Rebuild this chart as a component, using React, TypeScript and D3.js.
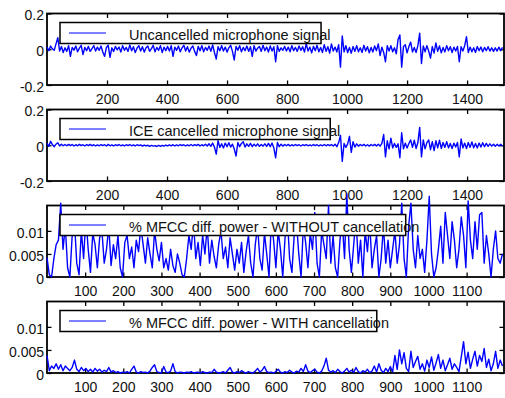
import React, { useEffect, useRef } from 'react';
import * as d3 from 'd3';

// microphone signals: one value every 6 samples, in units of 0.001
const micStep = 6;
const uncancelled = [
  12, -8, 18, 2, -6, 30, 65, -10, 15, -18,
  8, -12, 20, -40, 10, -5, 18, -14, 6, 22,
  -30, 10, -8, 16, -12, 4, 20, -10, 12, -6,
  18, -15, -40, 10, 22, -45, 8, -12, 16, -4,
  12, -16, 20, -6, 10, -12, 24, -8, 14, -18,
  6, 20, -10, 14, -16, 8, 18, -12, 4, 22,
  -14, 10, -6, 20, -18, 12, -8, 16, -10, 20,
  -40, 12, -6, 18, -14, 8, 22, -10, 14, -16,
  6, 18, -12, -35, 16, -8, 20, -14, 10, -6,
  18, -12, 24, -18, -55, 14, -8, 20, -10, 12,
  -16, 8, 22, -12, -60, 16, -6, 20, -14, 10,
  -8, 18, -12, 14, -40, 20, -10, 6, 16, -12,
  22, -8, 12, -16, 18, -10, 14, -70, 20, -12,
  8, -6, 16, -10, 12, -14, 20, -8, 10, -12,
  18, -6, 14, -16, 30, -10, 12, -20, 16, -8,
  22, -14, 10, -18, 26, -12, 14, -22, 30, -10,
  12, -15, 25, -100, 75, -15, 20, -18, 10, -22,
  15, -12, 20, -14, 8, -18, 22, -10, 14, -20,
  10, -15, 18, -8, 30, -35, 12, -18, -70, 20,
  -10, 20, -14, 8, -25, 55, 80, -100, 15, 25,
  -20, 15, 40, -15, 10, -18, 20, 90, -80, 18,
  -14, 20, -10, -50, 15, -22, 35, -12, 18, -20,
  10, -15, 20, -8, 14, -18, 12, -10, 16, -70,
  14, -10, 20, 70, -18, 12, -14, 8, -18, 15,
  -8, 12, -14, 10, -8, 14, -10, 8, -12, 8,
  -10, 12, -8, 10,
];
const iceCancelled = [
  10, -6, 22, 4, -8, 6, 14, -4, 6, -3,
  4, -3, 5, -2, 4, -4, 3, -3, 5, -2,
  3, -4, 4, -2, 5, -3, 3, -4, 2, -3,
  4, -2, 3, -4, 5, -3, 2, -4, 3, -2,
  4, -3, 2, -4, 3, -2, 4, -3, 2, -4,
  3, -2, 2, -5, 1, -4, 0, -6, -1, -5,
  -2, -7, 0, -6, -1, -5, 1, -4, 2, -3,
  3, -4, 2, -3, 4, -2, 3, -4, 2, -3,
  4, -3, 3, -2, 5, -4, 3, -3, 6, -4,
  8, -6, 12, -10, -50, 25, -12, 8, -15, 12,
  -8, 14, -10, 6, -20, -60, 15, -8, 10, 20,
  -10, 8, -6, 10, -8, 6, -5, 8, -6, 4,
  -5, 8, -6, 10, -8, 12, -15, -70, 15, -8,
  6, -5, 4, -3, 5, -4, 3, -3, 4, -2,
  3, -4, 3, -2, 4, -3, 2, -3, 4, -2,
  3, -4, 2, -3, 4, -3, 3, -2, 4, -4,
  6, -8, 15, 55, -90, 10, -12, 8, 50, -40,
  20, -10, 8, -5, 4, -3, 5, -4, 3, -5,
  4, -3, 5, -4, 6, -5, 10, 60, -65, 25,
  -20, 40, -15, 10, -12, 8, -70, 70, -20, 12,
  -15, 10, 30, -12, 28, -18, 15, 100, -65, 30,
  -20, 15, 30, -25, 20, -30, 25, -15, 28, -18,
  15, -12, 20, -15, 10, -18, 12, -10, 15, -65,
  35, -15, 12, -18, 15, -12, 18, -14, 10, -15,
  12, -10, 14, -8, 10, -6, 8, -5, 6, -6,
  5, -4, 6, -5,
];

// % MFCC diff power: one value every 6 frames, in units of 0.0001
const mfccStep = 6;
const mfccWithout = [
  42, 5, 0, 40, 70, 80, 160, 60, 110, 20,
  0, 90, 120, 30, 5, 100, 40, 130, 60, 10,
  95, 70, 20, 85, 100, 30, 60, 110, 25, 70,
  40, 90, 20, 0, 75, 90, 40, 65, 20, 80,
  55, 110, 70, 30, 85, 50, 20, 100, 60, 35,
  75, 20, 40, 15, 60, 25, 10, 50, 30, 5,
  0, 40, 90, 60, 120, 40, 75, 25, 90, 50,
  110, 30, 80, 45, 20, 70, 100, 40, 65, 20,
  85, 50, 15, 60, 30, 75, 10, 55, 90, 30,
  0, 70, 110, 40, 15, 95, 50, 0, 120, 80,
  20, 100, 60, 0, 85, 130, 40, 10, 90, 120,
  50, 0, 110, 75, 20, 95, 60, 140, 30, 0,
  100, 70, 40, 155, 30, 90, 20, 0, 80, 120,
  40, 180, 60, 10, 70, 130, 30, 80, 0, 100,
  55, 120, 20, 60, 90, 0, 40, 110, 30, 80,
  20, 60, 100, 30, 70, 160, 40, 0, 110, 160,
  60, 20, 90, 40, 60, 10, 80, 175, 50, 0,
  20, 60, 110, 30, 140, 90, 40, 120, 80, 20,
  60, 130, 90, 20, 165, 80, 40, 120, 60, 135,
  140, 30, 90, 50, 0, 60, 100, 40, 30, 50,
];
const mfccWith = [
  38, 5, 15, 10, 20, 8, 18, 5, 15, 10,
  5, 12, 28, 8, 3, 12, 5, 10, 3, 8,
  2, 10, 4, 8, 2, 6, 3, 12, 2, 5,
  1, 3, 0, 2, 1, 3, 0, 8, 15, 2,
  0, 3, 1, 2, 0, 4, 12, 18, 3, 1,
  0, 14, 2, 1, 4, 20, 3, 0, 2, 1,
  0, 2, 1, 3, 0, 1, 2, 0, 3, 1,
  0, 2, 1, 8, 2, 0, 1, 3, 0, 6,
  12, 2, 0, 3, 1, 5, 2, 0, 3, 1,
  0, 4, 10, 2, 6, 14, 3, 1, 2, 0,
  3, 8, 2, 0, 3, 1, 6, 2, 0, 4,
  2, 10, 3, 18, 4, 1, 5, 8, 2, 0,
  4, 15, 32, 6, 2, 5, 1, 8, 3, 0,
  4, 10, 2, 6, 1, 12, 3, 0, 5, 2,
  8, 1, 4, 15, 2, 20, 6, 1, 10, 3,
  14, 2, 38, 8, 50, 20, 44, 10, 3, 47,
  12, 25, 36, 8, 20, 4, 28, 12, 35, 6,
  22, 40, 10, 28, 5, 18, 32, 8, 20, 12,
  3, 35, 68, 20, 45, 10, 30, 47, 15, 38,
  25, 53, 12, 30, 5, 20, 47, 10, 28, 15,
];

const micXTicks = [200, 400, 600, 800, 1000, 1200, 1400];
const micYTicks = [-0.2, 0, 0.2];
const mfccXTicks = [100, 200, 300, 400, 500, 600, 700, 800, 900, 1000, 1100];
const mfccYTicks = [0, 0.005, 0.01];
const legendLabels = [
  'Uncancelled microphone signal',
  'ICE cancelled microphone signal',
  '% MFCC diff. power - WITHOUT cancellation',
  '% MFCC diff. power - WITH cancellation',
];

const W = 505;
const H = 398;
const font = '"Liberation Sans", Arial, Helvetica, sans-serif';

const App = () => {
  const ref = useRef<SVGSVGElement>(null);

  useEffect(() => {
    const svg = d3.select(ref.current);
    svg.selectAll('*').remove();

    const left = 47;
    const right = 504;
    const plotH = 71.5;
    const panels = [
      { values: uncancelled.map(v => v / 1000), step: micStep, xMax: 1523, yDomain: [-0.2, 0.2], xTicks: micXTicks, yTicks: micYTicks },
      { values: iceCancelled.map(v => v / 1000), step: micStep, xMax: 1523, yDomain: [-0.2, 0.2], xTicks: micXTicks, yTicks: micYTicks },
      { values: mfccWithout.map(v => v / 10000), step: mfccStep, xMax: 1198, yDomain: [0, 0.0155], xTicks: mfccXTicks, yTicks: mfccYTicks },
      { values: mfccWith.map(v => v / 10000), step: mfccStep, xMax: 1198, yDomain: [0, 0.0155], xTicks: mfccXTicks, yTicks: mfccYTicks },
    ];

    svg.append('rect').attr('width', W).attr('height', H).attr('fill', '#fff');

    panels.forEach((p, k) => {
      const top = 13.5 + 96 * k;
      const bottom = top + plotH;
      const x = d3.scaleLinear().domain([0, p.xMax]).range([left, right]);
      const y = d3.scaleLinear().domain(p.yDomain).range([bottom, top]);
      const g = svg.append('g');

      const styleAxis = (a: any) => {
        a.select('.domain').remove();
        a.selectAll('line').attr('stroke', '#000').attr('stroke-width', 1.3);
        a.selectAll('text').attr('fill', '#111').attr('font-size', 14).attr('font-family', font);
      };

      g.append('g').attr('transform', `translate(0,${bottom})`)
        .call(d3.axisBottom(x).tickValues(p.xTicks).tickSize(-4.5).tickPadding(9.5).tickFormat(d => String(d)))
        .call(styleAxis);
      g.append('g').attr('transform', `translate(0,${top})`)
        .call(d3.axisTop(x).tickValues(p.xTicks).tickSize(-4.5).tickFormat(() => ''))
        .call(styleAxis);
      g.append('g').attr('transform', `translate(${left},0)`)
        .call(d3.axisLeft(y).tickValues(p.yTicks).tickSize(-4.5).tickPadding(3).tickFormat(d => String(d)))
        .call(styleAxis)
        .call(a => a.selectAll('text').attr('dy', '0.45em'));
      g.append('g').attr('transform', `translate(${right},0)`)
        .call(d3.axisRight(y).tickValues(p.yTicks).tickSize(-4.5).tickFormat(() => ''))
        .call(styleAxis);

      g.append('rect')
        .attr('x', left).attr('y', top)
        .attr('width', right - left).attr('height', plotH)
        .attr('fill', 'none').attr('stroke', '#000').attr('stroke-width', 1.8);

      const line = d3.line<number>()
        .x((d, i) => x(i * p.step))
        .y(d => y(d));
      g.append('path')
        .datum(p.values)
        .attr('fill', 'none')
        .attr('stroke', '#0000ff')
        .attr('stroke-width', 1.4)
        .attr('stroke-linejoin', 'round')
        .attr('d', line);

      // legend box (MATLAB sized it a bit narrower than the text)
      const boxTop = top + 9;
      const lg = g.append('g');
      const box = lg.append('rect')
        .attr('x', 60).attr('y', boxTop).attr('height', 21)
        .attr('fill', '#fff').attr('stroke', '#000').attr('stroke-width', 1.5);
      lg.append('line')
        .attr('x1', 69).attr('x2', 106)
        .attr('y1', boxTop + 10.5).attr('y2', boxTop + 10.5)
        .attr('stroke', '#0000ff').attr('stroke-width', 1.2);
      const label = lg.append('text')
        .attr('x', 129).attr('y', boxTop + 17)
        .attr('font-size', 14.5).attr('font-family', font).attr('fill', '#111')
        .text(legendLabels[k]);
      const tw = (label.node() as SVGTextElement).getComputedTextLength();
      box.attr('width', 129 + 0.953 * tw - 60);
    });
  }, []);

  return (
    <svg ref={ref} width={W} height={H} style={{ position: 'absolute', left: 0, top: 0 }} />
  );
};

export default App;
